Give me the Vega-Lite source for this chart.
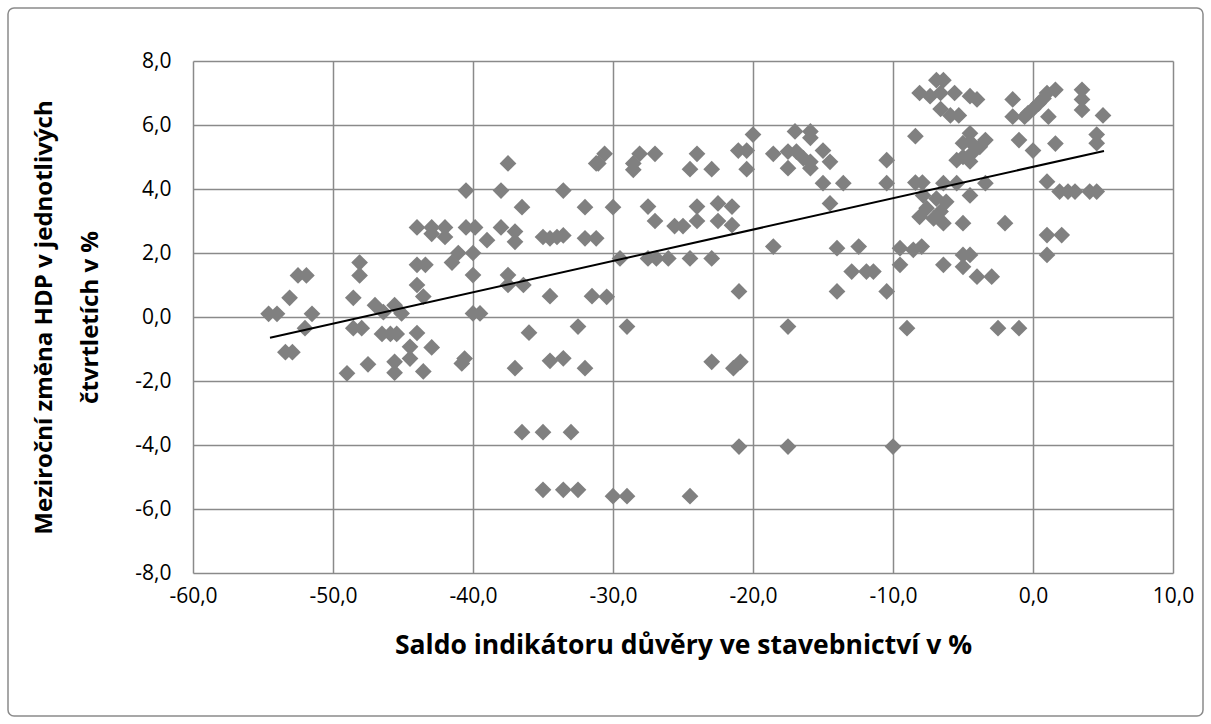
{
  "$schema": "https://vega.github.io/schema/vega-lite/v6.json",
  "autosize": {"type": "none"},
  "padding": 8,
  "width": 1195,
  "height": 708,
  "background": "white",
  "config": {
    "font": "Open Sans",
    "view": {"stroke": "#8a8a8a", "strokeWidth": 1.5, "cornerRadius": 6}
  },
  "datasets": {
    "pts": [
      {"saldo": -54.6, "hdp": 0.1}, {"saldo": -54.0, "hdp": 0.1}, {"saldo": -53.4, "hdp": -1.1}, {"saldo": -52.9, "hdp": -1.1},
      {"saldo": -53.1, "hdp": 0.6}, {"saldo": -52.5, "hdp": 1.3}, {"saldo": -51.9, "hdp": 1.3}, {"saldo": -51.5, "hdp": 0.1},
      {"saldo": -52.0, "hdp": -0.35},
      {"saldo": -48.1, "hdp": 1.7}, {"saldo": -48.1, "hdp": 1.3}, {"saldo": -48.55, "hdp": 0.6}, {"saldo": -47.0, "hdp": 0.37},
      {"saldo": -48.55, "hdp": -0.35}, {"saldo": -47.95, "hdp": -0.35}, {"saldo": -49.0, "hdp": -1.76}, {"saldo": -47.5, "hdp": -1.48},
      {"saldo": -46.5, "hdp": -0.53}, {"saldo": -45.9, "hdp": -0.53}, {"saldo": -45.45, "hdp": -0.53}, {"saldo": -46.4, "hdp": 0.15},
      {"saldo": -45.6, "hdp": 0.37}, {"saldo": -45.1, "hdp": 0.11}, {"saldo": -44.0, "hdp": -0.5}, {"saldo": -44.5, "hdp": -0.93},
      {"saldo": -44.5, "hdp": -1.3}, {"saldo": -42.95, "hdp": -0.95}, {"saldo": -45.6, "hdp": -1.4}, {"saldo": -45.6, "hdp": -1.74},
      {"saldo": -43.55, "hdp": -1.7}, {"saldo": -40.8, "hdp": -1.45}, {"saldo": -40.6, "hdp": -1.3},
      {"saldo": -44.0, "hdp": 2.8}, {"saldo": -42.95, "hdp": 2.8}, {"saldo": -42.0, "hdp": 2.8}, {"saldo": -42.95, "hdp": 2.6},
      {"saldo": -42.0, "hdp": 2.5}, {"saldo": -40.5, "hdp": 2.8}, {"saldo": -39.85, "hdp": 2.8}, {"saldo": -39.0, "hdp": 2.4},
      {"saldo": -41.05, "hdp": 2.0}, {"saldo": -41.5, "hdp": 1.7}, {"saldo": -40.0, "hdp": 2.0}, {"saldo": -44.0, "hdp": 1.63},
      {"saldo": -43.4, "hdp": 1.63}, {"saldo": -40.0, "hdp": 1.31}, {"saldo": -44.0, "hdp": 1.0}, {"saldo": -43.55, "hdp": 0.64},
      {"saldo": -40.0, "hdp": 0.11}, {"saldo": -39.5, "hdp": 0.11}, {"saldo": -40.5, "hdp": 3.95},
      {"saldo": -37.5, "hdp": 4.8}, {"saldo": -38.0, "hdp": 3.95}, {"saldo": -33.55, "hdp": 3.95}, {"saldo": -36.5, "hdp": 3.43},
      {"saldo": -32.0, "hdp": 3.43}, {"saldo": -38.0, "hdp": 2.8}, {"saldo": -37.0, "hdp": 2.67}, {"saldo": -37.0, "hdp": 2.35},
      {"saldo": -35.0, "hdp": 2.5}, {"saldo": -34.5, "hdp": 2.46}, {"saldo": -34.0, "hdp": 2.5}, {"saldo": -33.55, "hdp": 2.55},
      {"saldo": -32.0, "hdp": 2.46}, {"saldo": -31.2, "hdp": 2.46}, {"saldo": -37.5, "hdp": 1.31}, {"saldo": -37.5, "hdp": 1.0},
      {"saldo": -36.4, "hdp": 1.0}, {"saldo": -34.5, "hdp": 0.65}, {"saldo": -31.5, "hdp": 0.65}, {"saldo": -30.45, "hdp": 0.63},
      {"saldo": -36.0, "hdp": -0.49}, {"saldo": -32.5, "hdp": -0.3}, {"saldo": -37.0, "hdp": -1.6}, {"saldo": -34.5, "hdp": -1.37},
      {"saldo": -33.55, "hdp": -1.29}, {"saldo": -32.0, "hdp": -1.6}, {"saldo": -31.2, "hdp": 4.8}, {"saldo": -30.6, "hdp": 5.1},
      {"saldo": -31.05, "hdp": 4.8}, {"saldo": -30.0, "hdp": 3.43}, {"saldo": -36.5, "hdp": -3.6}, {"saldo": -35.0, "hdp": -3.6},
      {"saldo": -33.0, "hdp": -3.6}, {"saldo": -35.0, "hdp": -5.4}, {"saldo": -33.55, "hdp": -5.4}, {"saldo": -32.5, "hdp": -5.4},
      {"saldo": -30.0, "hdp": -5.6},
      {"saldo": -29.5, "hdp": 1.83}, {"saldo": -29.0, "hdp": -0.3}, {"saldo": -29.0, "hdp": -5.6}, {"saldo": -28.1, "hdp": 5.1},
      {"saldo": -28.55, "hdp": 4.8}, {"saldo": -28.55, "hdp": 4.6}, {"saldo": -27.0, "hdp": 5.1}, {"saldo": -27.5, "hdp": 3.45},
      {"saldo": -27.0, "hdp": 3.0}, {"saldo": -27.5, "hdp": 1.83}, {"saldo": -26.9, "hdp": 1.83}, {"saldo": -26.05, "hdp": 1.83},
      {"saldo": -25.6, "hdp": 2.84}, {"saldo": -25.0, "hdp": 2.84}, {"saldo": -24.0, "hdp": 5.1}, {"saldo": -24.5, "hdp": 4.62},
      {"saldo": -22.95, "hdp": 4.62}, {"saldo": -24.0, "hdp": 3.45}, {"saldo": -24.0, "hdp": 3.0}, {"saldo": -24.5, "hdp": 1.83},
      {"saldo": -24.5, "hdp": -5.6}, {"saldo": -22.95, "hdp": 1.83}, {"saldo": -22.95, "hdp": -1.4}, {"saldo": -22.5, "hdp": 3.55},
      {"saldo": -21.5, "hdp": 3.45}, {"saldo": -22.5, "hdp": 3.0}, {"saldo": -21.5, "hdp": 2.87}, {"saldo": -21.4, "hdp": -1.6},
      {"saldo": -20.9, "hdp": -1.4}, {"saldo": -21.05, "hdp": 5.2}, {"saldo": -20.45, "hdp": 5.2}, {"saldo": -20.0, "hdp": 5.7},
      {"saldo": -20.45, "hdp": 4.62}, {"saldo": -21.0, "hdp": 0.8}, {"saldo": -21.0, "hdp": -4.05},
      {"saldo": -18.55, "hdp": 5.1}, {"saldo": -17.5, "hdp": 5.17}, {"saldo": -16.9, "hdp": 5.17}, {"saldo": -16.4, "hdp": 4.96},
      {"saldo": -15.9, "hdp": 4.85}, {"saldo": -17.5, "hdp": 4.65}, {"saldo": -15.9, "hdp": 4.65}, {"saldo": -17.0, "hdp": 5.8},
      {"saldo": -15.9, "hdp": 5.8}, {"saldo": -15.9, "hdp": 5.6}, {"saldo": -18.55, "hdp": 2.2}, {"saldo": -17.5, "hdp": -0.3},
      {"saldo": -17.5, "hdp": -4.05}, {"saldo": -15.0, "hdp": 5.2}, {"saldo": -14.5, "hdp": 4.85}, {"saldo": -15.0, "hdp": 4.18},
      {"saldo": -13.55, "hdp": 4.18}, {"saldo": -14.5, "hdp": 3.55}, {"saldo": -14.0, "hdp": 2.15}, {"saldo": -12.45, "hdp": 2.2},
      {"saldo": -12.95, "hdp": 1.42}, {"saldo": -11.9, "hdp": 1.42}, {"saldo": -11.4, "hdp": 1.42}, {"saldo": -14.0, "hdp": 0.8},
      {"saldo": -10.45, "hdp": 0.8}, {"saldo": -10.45, "hdp": 4.9}, {"saldo": -10.45, "hdp": 4.18}, {"saldo": -10.0, "hdp": -4.05},
      {"saldo": -9.5, "hdp": 2.15}, {"saldo": -9.5, "hdp": 1.63}, {"saldo": -9.0, "hdp": -0.35}, {"saldo": -8.4, "hdp": 5.65},
      {"saldo": -8.4, "hdp": 4.2}, {"saldo": -7.9, "hdp": 4.2}, {"saldo": -6.4, "hdp": 4.18}, {"saldo": -5.45, "hdp": 4.18},
      {"saldo": -8.55, "hdp": 2.1}, {"saldo": -7.95, "hdp": 2.2}, {"saldo": -6.4, "hdp": 1.63}, {"saldo": -5.0, "hdp": 1.94},
      {"saldo": -4.5, "hdp": 1.94}, {"saldo": -5.0, "hdp": 1.57}, {"saldo": -4.0, "hdp": 1.26}, {"saldo": -2.95, "hdp": 1.26},
      {"saldo": -6.9, "hdp": 7.4}, {"saldo": -6.4, "hdp": 7.4}, {"saldo": -8.1, "hdp": 7.0}, {"saldo": -7.35, "hdp": 6.9},
      {"saldo": -6.6, "hdp": 7.0}, {"saldo": -5.6, "hdp": 7.0}, {"saldo": -4.5, "hdp": 6.9}, {"saldo": -4.0, "hdp": 6.8},
      {"saldo": -6.6, "hdp": 6.5}, {"saldo": -5.9, "hdp": 6.3}, {"saldo": -5.3, "hdp": 6.3}, {"saldo": -4.5, "hdp": 5.74},
      {"saldo": -4.5, "hdp": 5.48}, {"saldo": -3.4, "hdp": 5.53}, {"saldo": -3.8, "hdp": 5.32}, {"saldo": -4.4, "hdp": 5.1},
      {"saldo": -4.5, "hdp": 4.86}, {"saldo": -5.0, "hdp": 5.43}, {"saldo": -5.0, "hdp": 5.0}, {"saldo": -5.45, "hdp": 4.9},
      {"saldo": -3.4, "hdp": 4.18}, {"saldo": -7.85, "hdp": 3.8}, {"saldo": -6.9, "hdp": 3.7}, {"saldo": -6.2, "hdp": 3.6},
      {"saldo": -7.6, "hdp": 3.4}, {"saldo": -8.1, "hdp": 3.13}, {"saldo": -6.6, "hdp": 3.3}, {"saldo": -7.1, "hdp": 3.08},
      {"saldo": -6.4, "hdp": 2.93}, {"saldo": -5.0, "hdp": 2.93}, {"saldo": -4.5, "hdp": 3.8}, {"saldo": -2.0, "hdp": 2.93},
      {"saldo": -2.5, "hdp": -0.35}, {"saldo": -1.0, "hdp": -0.35}, {"saldo": -1.45, "hdp": 6.8}, {"saldo": -1.45, "hdp": 6.26},
      {"saldo": -0.6, "hdp": 6.26}, {"saldo": -0.35, "hdp": 6.37}, {"saldo": -1.0, "hdp": 5.53}, {"saldo": 0.0, "hdp": 6.5},
      {"saldo": 0.0, "hdp": 5.2},
      {"saldo": 0.4, "hdp": 6.67}, {"saldo": 0.75, "hdp": 6.83}, {"saldo": 1.0, "hdp": 7.0}, {"saldo": 1.6, "hdp": 7.1},
      {"saldo": 1.1, "hdp": 6.26}, {"saldo": 3.5, "hdp": 7.1}, {"saldo": 3.5, "hdp": 6.8}, {"saldo": 3.5, "hdp": 6.47},
      {"saldo": 5.0, "hdp": 6.3}, {"saldo": 1.6, "hdp": 5.42}, {"saldo": 4.55, "hdp": 5.7}, {"saldo": 4.55, "hdp": 5.43},
      {"saldo": 1.0, "hdp": 4.23}, {"saldo": 1.9, "hdp": 3.92}, {"saldo": 2.5, "hdp": 3.92}, {"saldo": 3.0, "hdp": 3.92},
      {"saldo": 4.05, "hdp": 3.92}, {"saldo": 4.55, "hdp": 3.92}, {"saldo": 1.0, "hdp": 2.56}, {"saldo": 2.05, "hdp": 2.56},
      {"saldo": 1.0, "hdp": 1.94}
    ],
    "trend": [
      {"saldo": -54.5, "hdp": -0.65},
      {"saldo": 5.07, "hdp": 5.19}
    ]
  },
  "layer": [
    {
      "data": {"name": "pts"},
      "mark": {"type": "point", "shape": "diamond", "filled": true, "size": 280, "color": "#808080", "opacity": 1},
      "encoding": {
        "x": {
          "field": "saldo", "type": "quantitative",
          "scale": {"domain": [-60, 10], "range": [185, 1165], "nice": false, "zero": false},
          "axis": {
            "orient": "top", "offset": -565,
            "values": [-60, -50, -40, -30, -20, -10, 0, 10],
            "grid": true, "gridColor": "#8a8a8a", "gridWidth": 1.5, "gridOpacity": 1,
            "domain": false, "ticks": false, "tickSize": 0,
            "labelPadding": -12, "labelBaseline": "top", "labelFlush": false, "labelOverlap": false,
            "labelFontSize": 21, "labelColor": "#000000", "labelFont": "Open Sans",
            "labelExpr": "replace(replace(format(datum.value, '.1f'), '.', ','), '\u2212', '-')",
            "title": "Saldo indikátoru důvěry ve stavebnictví v %",
            "titleFontSize": 26.5, "titleFontWeight": "bold", "titleColor": "#000000", "titleFont": "Open Sans",
            "titleBaseline": "middle", "titleY": 72
          }
        },
        "y": {
          "field": "hdp", "type": "quantitative",
          "scale": {"domain": [-8, 8], "range": [565, 53], "nice": false, "zero": false},
          "axis": {
            "orient": "left", "offset": -185,
            "values": [-8, -6, -4, -2, 0, 2, 4, 6, 8],
            "grid": true, "gridColor": "#8a8a8a", "gridWidth": 1.5, "gridOpacity": 1,
            "domain": false, "ticks": false, "tickSize": 0,
            "labelPadding": 22, "labelFontSize": 21, "labelColor": "#000000", "labelFont": "Open Sans",
            "labelOverlap": false,
            "labelExpr": "replace(replace(format(datum.value, '.1f'), '.', ','), '\u2212', '-')",
            "title": ["Meziroční  změna HDP v jednotlivých", "čtvrtletích v %"],
            "titleFontSize": 24, "titleFontWeight": "bold", "titleColor": "#000000", "titleFont": "Open Sans",
            "titleLineHeight": 46, "titleBaseline": "middle", "titleX": -149
          }
        }
      }
    },
    {
      "data": {"name": "trend"},
      "mark": {"type": "line", "color": "#000000", "strokeWidth": 2},
      "encoding": {
        "x": {"field": "saldo", "type": "quantitative"},
        "y": {"field": "hdp", "type": "quantitative"}
      }
    }
  ]
}
